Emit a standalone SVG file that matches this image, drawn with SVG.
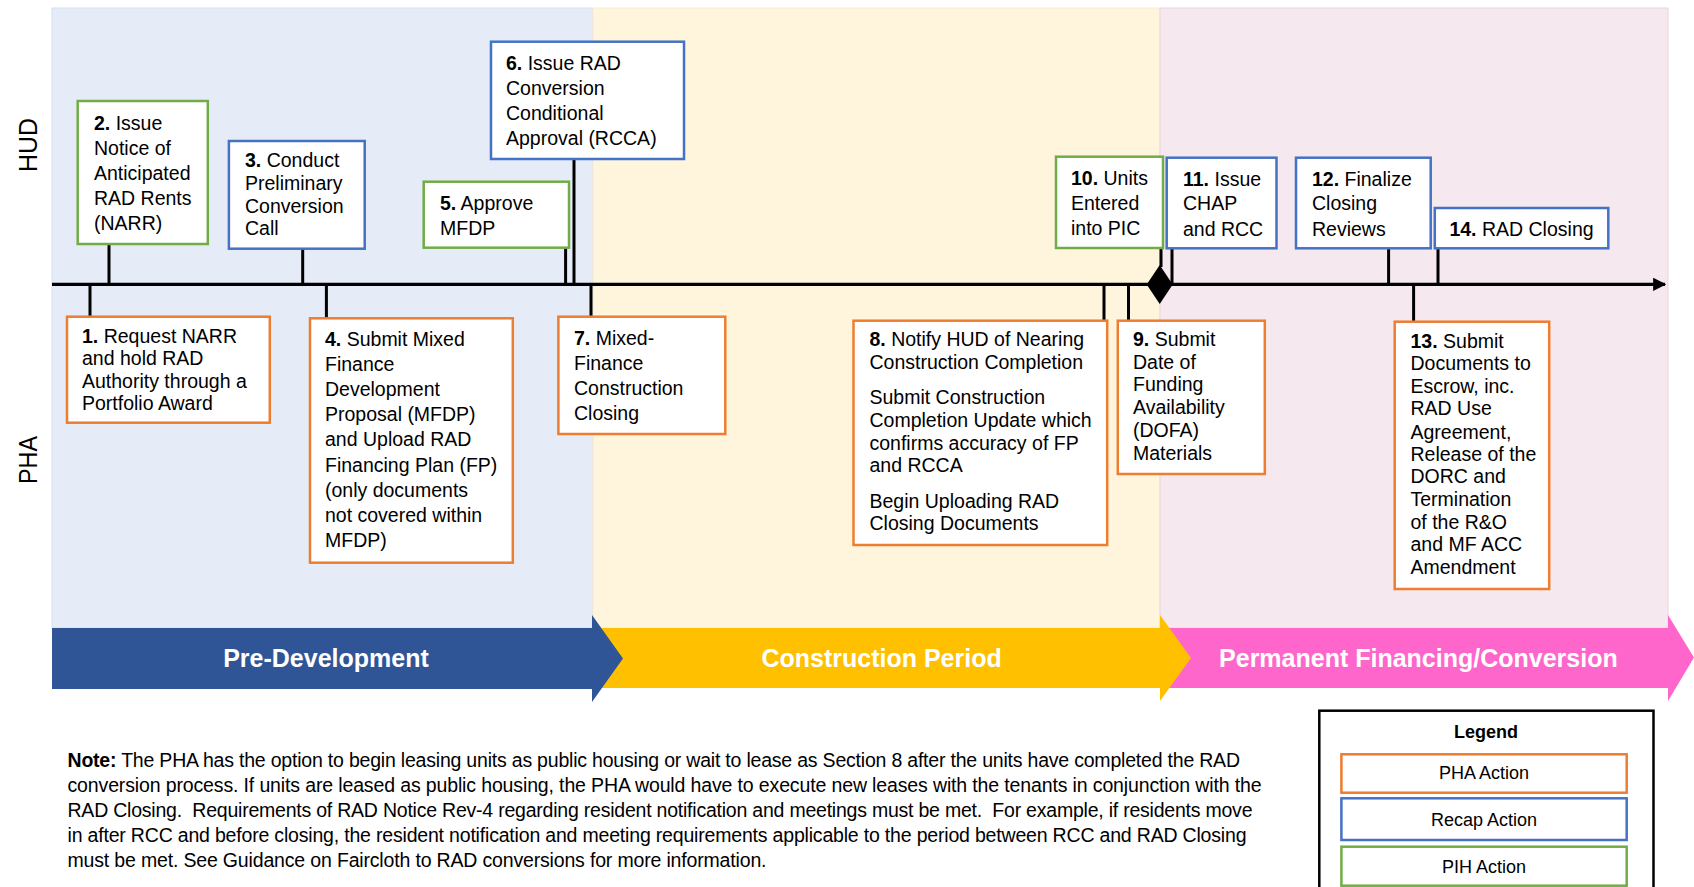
<svg xmlns="http://www.w3.org/2000/svg" width="1694" height="887" viewBox="0 0 1694 887">
<defs>
<style>
text{font-family:"Liberation Sans",Arial,sans-serif;fill:#000}
.t{font-size:19.5px}
.b{font-weight:bold}
.box{fill:#fff;stroke-width:2.5}
.pha{stroke:#ED7D31}
.recap{stroke:#4472C4}
.pih{stroke:#70AD47}
.tick{stroke:#000;stroke-width:3;fill:none}
.band{font-size:25px;font-weight:bold;fill:#fff;text-anchor:middle}
.lane{font-size:25px;text-anchor:middle}
.note{font-size:19.5px}
.leg{font-size:18px;text-anchor:middle}
</style>
<marker id="arr" viewBox="0 0 10 10" refX="9" refY="5" markerWidth="4" markerHeight="4" orient="auto" markerUnits="strokeWidth">
<path d="M0,0 L10,5 L0,10 z" fill="#000"/>
</marker>
</defs>

<g id="panels">
<rect x="52" y="8" width="541" height="620" fill="#E5ECF7" stroke="#D5DFF1" stroke-width="1"/>
<rect x="593" y="8" width="567" height="620" fill="#FFF5DC" stroke="#FBEBCB" stroke-width="1"/>
<rect x="1160" y="8" width="508" height="620" fill="#F5E8EE" stroke="#EBD3DE" stroke-width="1"/>
</g>

<g id="lanes">
<text class="lane" transform="translate(36.5,145) rotate(-90)" textLength="54" lengthAdjust="spacingAndGlyphs">HUD</text>
<text class="lane" transform="translate(36.5,460) rotate(-90)" textLength="48" lengthAdjust="spacingAndGlyphs">PHA</text>
</g>

<g id="phases">
<polygon points="1160,628 1668,628 1668,615 1694,657.5 1668,701 1668,688 1160,688" fill="#FF66CC"/>
<polygon points="592,628 1160,628 1160,615 1191,658 1160,701 1160,688 592,688" fill="#FFC000"/>
<polygon points="52,628 592,628 592,615 623,658.5 592,702 592,689 52,689" fill="#2F5597"/>
<text class="band" x="326" y="667">Pre-Development</text>
<text class="band" x="881.6" y="667">Construction Period</text>
<text class="band" x="1418.4" y="667">Permanent Financing/Conversion</text>
</g>

<g id="connectors">
<line x1="52" y1="284.3" x2="1665" y2="284.3" stroke="#000" stroke-width="3.3" marker-end="url(#arr)"/>
<polygon points="1159.7,265 1172.7,284.5 1159.7,304 1146.7,284.5" fill="#000"/>
<line class="tick" x1="109" y1="244" x2="109" y2="284"/>
<line class="tick" x1="302.7" y1="248.7" x2="302.7" y2="284"/>
<line class="tick" x1="565.6" y1="247.7" x2="565.6" y2="284"/>
<line class="tick" x1="574" y1="159" x2="574" y2="284"/>
<line class="tick" x1="1161" y1="248" x2="1161" y2="267"/>
<line class="tick" x1="1172" y1="248.3" x2="1172" y2="284"/>
<line class="tick" x1="1388.6" y1="248.3" x2="1388.6" y2="284"/>
<line class="tick" x1="1438" y1="248.3" x2="1438" y2="284"/>
<line class="tick" x1="90" y1="284" x2="90" y2="316.7"/>
<line class="tick" x1="326.4" y1="284" x2="326.4" y2="318.3"/>
<line class="tick" x1="591" y1="284" x2="591" y2="316.7"/>
<line class="tick" x1="1104" y1="284" x2="1104" y2="320.7"/>
<line class="tick" x1="1128.5" y1="284" x2="1128.5" y2="320.7"/>
<line class="tick" x1="1413.6" y1="284" x2="1413.6" y2="321.7"/>
</g>

<g id="step1">
<rect class="box pha" x="67" y="316.7" width="202.8" height="106"/>
<text class="t" x="82" y="343"><tspan class="b">1.</tspan> Request NARR</text>
<text class="t" x="82" y="365">and hold RAD</text>
<text class="t" x="82" y="388">Authority through a</text>
<text class="t" x="82" y="410">Portfolio Award</text>
</g>

<g id="step2">
<rect class="box pih" x="77.7" y="101" width="130.1" height="143"/>
<text class="t" x="94" y="130"><tspan class="b">2.</tspan> Issue</text>
<text class="t" x="94" y="155">Notice of</text>
<text class="t" x="94" y="180">Anticipated</text>
<text class="t" x="94" y="205">RAD Rents</text>
<text class="t" x="94" y="230">(NARR)</text>
</g>

<g id="step3">
<rect class="box recap" x="228.9" y="141" width="135.8" height="107.7"/>
<text class="t" x="245" y="167"><tspan class="b">3.</tspan> Conduct</text>
<text class="t" x="245" y="190">Preliminary</text>
<text class="t" x="245" y="213">Conversion</text>
<text class="t" x="245" y="235">Call</text>
</g>

<g id="step4">
<rect class="box pha" x="310" y="318.3" width="202.8" height="244.4"/>
<text class="t" x="325" y="346"><tspan class="b">4.</tspan> Submit Mixed</text>
<text class="t" x="325" y="371">Finance</text>
<text class="t" x="325" y="396">Development</text>
<text class="t" x="325" y="421">Proposal (MFDP)</text>
<text class="t" x="325" y="446">and Upload RAD</text>
<text class="t" x="325" y="472">Financing Plan (FP)</text>
<text class="t" x="325" y="497">(only documents</text>
<text class="t" x="325" y="522">not covered within</text>
<text class="t" x="325" y="547">MFDP)</text>
</g>

<g id="step5">
<rect class="box pih" x="423.7" y="181.7" width="145.3" height="66"/>
<text class="t" x="440" y="210"><tspan class="b">5.</tspan> Approve</text>
<text class="t" x="440" y="235">MFDP</text>
</g>

<g id="step6">
<rect class="box recap" x="491" y="41.7" width="193" height="117.3"/>
<text class="t" x="506" y="70"><tspan class="b">6.</tspan> Issue RAD</text>
<text class="t" x="506" y="95">Conversion</text>
<text class="t" x="506" y="120">Conditional</text>
<text class="t" x="506" y="145">Approval (RCCA)</text>
</g>

<g id="step7">
<rect class="box pha" x="558.4" y="316.7" width="166.9" height="117.3"/>
<text class="t" x="574" y="345"><tspan class="b">7.</tspan> Mixed-</text>
<text class="t" x="574" y="370">Finance</text>
<text class="t" x="574" y="395">Construction</text>
<text class="t" x="574" y="420">Closing</text>
</g>

<g id="step8">
<rect class="box pha" x="853.5" y="320.7" width="253.7" height="224.3"/>
<text class="t" x="869.5" y="346"><tspan class="b">8.</tspan> Notify HUD of Nearing</text>
<text class="t" x="869.5" y="369">Construction Completion</text>
<text class="t" x="869.5" y="404">Submit Construction</text>
<text class="t" x="869.5" y="427">Completion Update which</text>
<text class="t" x="869.5" y="450">confirms accuracy of FP</text>
<text class="t" x="869.5" y="472">and RCCA</text>
<text class="t" x="869.5" y="508">Begin Uploading RAD</text>
<text class="t" x="869.5" y="530">Closing Documents</text>
</g>

<g id="step9">
<rect class="box pha" x="1117.8" y="320.7" width="147" height="153.3"/>
<text class="t" x="1133" y="346"><tspan class="b">9.</tspan> Submit</text>
<text class="t" x="1133" y="369">Date of</text>
<text class="t" x="1133" y="391">Funding</text>
<text class="t" x="1133" y="414">Availability</text>
<text class="t" x="1133" y="437">(DOFA)</text>
<text class="t" x="1133" y="460">Materials</text>
</g>

<g id="step10">
<rect class="box pih" x="1056" y="156.7" width="107" height="91.3"/>
<text class="t" x="1071" y="185"><tspan class="b">10.</tspan> Units</text>
<text class="t" x="1071" y="210">Entered</text>
<text class="t" x="1071" y="235">into PIC</text>
</g>

<g id="step11">
<rect class="box recap" x="1166.7" y="157.7" width="109.8" height="90.6"/>
<text class="t" x="1183" y="186"><tspan class="b">11.</tspan> Issue</text>
<text class="t" x="1183" y="210">CHAP</text>
<text class="t" x="1183" y="236">and RCC</text>
</g>

<g id="step12">
<rect class="box recap" x="1296" y="157.7" width="134.7" height="90.6"/>
<text class="t" x="1312" y="186"><tspan class="b">12.</tspan> Finalize</text>
<text class="t" x="1312" y="210">Closing</text>
<text class="t" x="1312" y="236">Reviews</text>
</g>

<g id="step13">
<rect class="box pha" x="1394.7" y="321.7" width="154.5" height="267.3"/>
<text class="t" x="1410.5" y="348"><tspan class="b">13.</tspan> Submit</text>
<text class="t" x="1410.5" y="370">Documents to</text>
<text class="t" x="1410.5" y="393">Escrow, inc.</text>
<text class="t" x="1410.5" y="415">RAD Use</text>
<text class="t" x="1410.5" y="439">Agreement,</text>
<text class="t" x="1410.5" y="461">Release of the</text>
<text class="t" x="1410.5" y="483">DORC and</text>
<text class="t" x="1410.5" y="506">Termination</text>
<text class="t" x="1410.5" y="529">of the R&amp;O</text>
<text class="t" x="1410.5" y="551">and MF ACC</text>
<text class="t" x="1410.5" y="574">Amendment</text>
</g>

<g id="step14">
<rect class="box recap" x="1434.8" y="208" width="173.5" height="40.3"/>
<text class="t" x="1521.5" y="236" text-anchor="middle"><tspan class="b">14.</tspan> RAD Closing</text>
</g>

<g id="note">
<text class="note" x="67.5" y="767" textLength="1172.5" lengthAdjust="spacing"><tspan class="b">Note:</tspan> The PHA has the option to begin leasing units as public housing or wait to lease as Section 8 after the units have completed the RAD</text>
<text class="note" x="67.5" y="792" textLength="1194" lengthAdjust="spacing">conversion process. If units are leased as public housing, the PHA would have to execute new leases with the tenants in conjunction with the</text>
<text class="note" x="67.5" y="817" textLength="1185" lengthAdjust="spacing" xml:space="preserve">RAD Closing.  Requirements of RAD Notice Rev-4 regarding resident notification and meetings must be met.  For example, if residents move</text>
<text class="note" x="67.5" y="842" textLength="1179" lengthAdjust="spacing">in after RCC and before closing, the resident notification and meeting requirements applicable to the period between RCC and RAD Closing</text>
<text class="note" x="67.5" y="867" textLength="699" lengthAdjust="spacing">must be met. See Guidance on Faircloth to RAD conversions for more information.</text>
</g>

<g id="legend">
<rect x="1319.3" y="710.7" width="334.2" height="200" fill="#fff" stroke="#000" stroke-width="2.5"/>
<text class="leg b" x="1486" y="738">Legend</text>
<rect class="box pha" x="1341.4" y="754.3" width="285.3" height="38.4" stroke-width="3"/>
<text class="leg" x="1484" y="779">PHA Action</text>
<rect class="box recap" x="1341.4" y="798.3" width="285.3" height="41.7" stroke-width="3"/>
<text class="leg" x="1484" y="826">Recap Action</text>
<rect class="box pih" x="1341.4" y="846.7" width="285.3" height="39" stroke-width="3"/>
<text class="leg" x="1484" y="872.5">PIH Action</text>
</g>
</svg>
